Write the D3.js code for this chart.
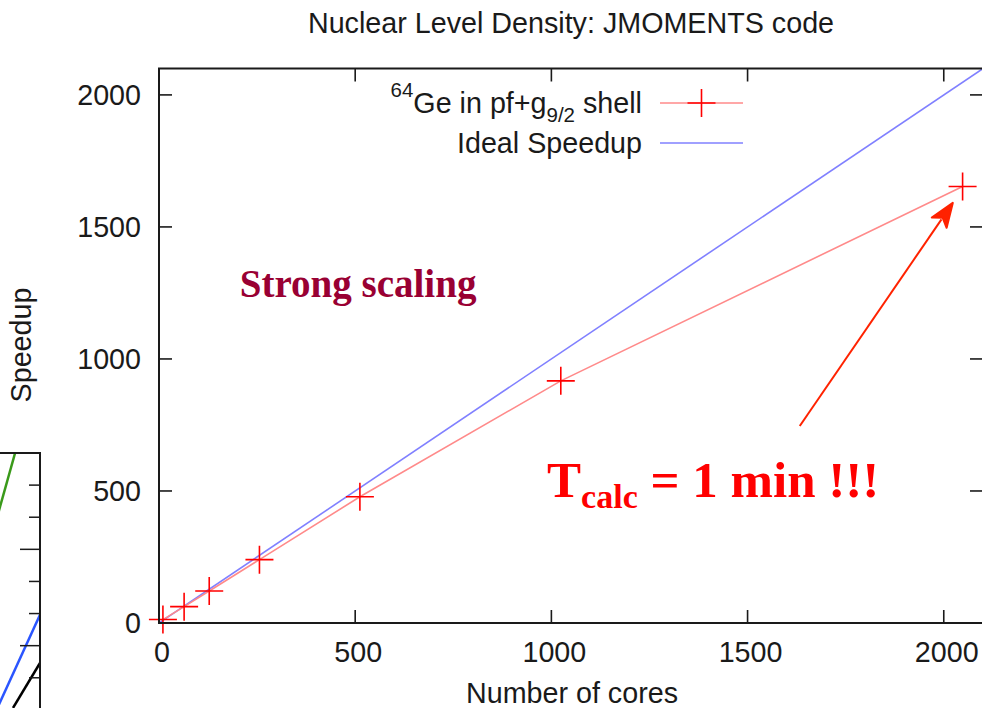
<!DOCTYPE html>
<html>
<head>
<meta charset="utf-8">
<script src="https://cdn.jsdelivr.net/npm/d3@7"></script>
<style>
  body { margin: 0; background: #fff; }
  svg { display: block; }
</style>
</head>
<body>
<div id="chart"></div>
<script>
// data
const cores = [10, 64, 128, 256, 512, 1024, 2048];
const speedup = [13, 62, 121, 240, 478, 917, 1653];
const idealCores = [0, 2100];
const idealSpeedup = [0, 2100];
const xTicks = [0, 500, 1000, 1500, 2000];
const yTicks = [0, 500, 1000, 1500, 2000];

// piece of a neighbouring chart, cut off at the left edge
const leftTicks = [1, 2, 3, 4, 5, 6, 7, 8];
const leftMajor = [3, 6];
const leftGreen = [[8.6, 7.1], [9.17, 9]];
const leftBlue = [[8.6, 1.1], [10, 3.96]];
const leftBlack = [[9.1, 1.06], [10, 2.46]];

const W = 982, H = 708;
const fs = 28.7
const svg = d3.select("#chart").append("svg")
  .attr("width", W).attr("height", H)
  .style("font-family", "'Liberation Sans', Arial, Helvetica, sans-serif")

svg.append("rect").attr("width", W).attr("height", H).attr("fill", "#fff")

var x = d3.scaleLinear().domain([0, 2100]).range([159, 983])
var y = d3.scaleLinear().domain([0, 2100]).range([623, 68.5])
const tickLen = 13
const ink = "#1a1a1a"

// ---- left remnant chart ----
var xl = d3.scaleLinear().domain([0, 10]).range([-260, 40])
var yl = d3.scaleLinear().domain([0, 9]).range([742, 453])
svg.append("clipPath").attr("id", "clipL")
  .append("rect").attr("x", 0).attr("y", yl(9)).attr("width", xl(10)).attr("height", H)
const gl = svg.append("g")
const lineL = d3.line().x(d => xl(d[0])).y(d => yl(d[1]))
;[[leftGreen, "#3a9a1a"], [leftBlue, "#2a55ff"], [leftBlack, "#000"]].forEach(([pts, col]) => {
  gl.append("path").attr("d", lineL(pts)).attr("fill", "none")
    .attr("stroke", col).attr("stroke-width", 2.5).attr("clip-path", "url(#clipL)")
})
gl.selectAll("line.lt").data(leftTicks).enter().append("line")
  .attr("x1", d => xl(10) - (leftMajor.includes(d) ? 20 : 11)).attr("x2", xl(10))
  .attr("y1", d => yl(d)).attr("y2", d => yl(d))
  .attr("stroke", ink).attr("stroke-width", 1.5)
gl.append("path")
  .attr("d", `M0,${yl(9)}H${xl(10)}V${H}`)
  .attr("fill", "none").attr("stroke", ink).attr("stroke-width", 2)

// ---- main plot ----
const line = d3.line().x(d => x(d[0])).y(d => y(d[1]))

svg.append("clipPath").attr("id", "clipM")
  .append("rect").attr("x", x(0)).attr("y", y(2100)).attr("width", x(2100) - x(0)).attr("height", y(0) - y(2100))

// ideal speedup
svg.append("path")
  .attr("d", line(idealCores.map((c, i) => [c, idealSpeedup[i]])))
  .attr("fill", "none").attr("stroke", "#8080ff").attr("stroke-width", 1.6)
  .attr("clip-path", "url(#clipM)")

// measured speedup
const pts = cores.map((c, i) => [c, speedup[i]])
svg.append("path")
  .attr("d", line(pts))
  .attr("fill", "none").attr("stroke", "#ff8a8a").attr("stroke-width", 1.6)

function drawPlus(g, cx, cy) {
  g.append("path")
    .attr("d", `M${cx - 14},${cy}H${cx + 14}M${cx},${cy - 14}V${cy + 14}`)
    .attr("stroke", "#ff0000").attr("stroke-width", 1.6).attr("fill", "none")
}
const gp = svg.append("g")
pts.forEach(d => drawPlus(gp, x(d[0]), y(d[1])))

// border and ticks
svg.append("rect")
  .attr("x", x(0)).attr("y", y(2100))
  .attr("width", x(2100) - x(0)).attr("height", y(0) - y(2100))
  .attr("fill", "none").attr("stroke", ink).attr("stroke-width", 2)

const gt = svg.append("g").attr("stroke", ink).attr("stroke-width", 1.6)
xTicks.forEach(t => {
  gt.append("line").attr("x1", x(t)).attr("x2", x(t)).attr("y1", y(0)).attr("y2", y(0) - tickLen)
  gt.append("line").attr("x1", x(t)).attr("x2", x(t)).attr("y1", y(2100)).attr("y2", y(2100) + tickLen)
})
yTicks.forEach(t => {
  gt.append("line").attr("x1", x(0)).attr("x2", x(0) + tickLen).attr("y1", y(t)).attr("y2", y(t))
  gt.append("line").attr("x1", x(2100)).attr("x2", x(2100) - tickLen).attr("y1", y(t)).attr("y2", y(t))
})

// tick labels
svg.selectAll("text.xt").data(xTicks).enter().append("text")
  .attr("x", d => x(d) + 3).attr("y", y(0) + 39)
  .attr("text-anchor", "middle").attr("font-size", fs).attr("fill", ink)
  .text(d => d)
svg.selectAll("text.yt").data(yTicks).enter().append("text")
  .attr("x", x(0) - 18).attr("y", d => y(d) + 10)
  .attr("text-anchor", "end").attr("font-size", fs).attr("fill", ink)
  .text(d => d)

// titles
svg.append("text").attr("x", 571).attr("y", 33)
  .attr("text-anchor", "middle").attr("font-size", fs).attr("fill", ink)
  .text("Nuclear Level Density: JMOMENTS code")
svg.append("text").attr("x", 572).attr("y", 703)
  .attr("text-anchor", "middle").attr("font-size", fs).attr("fill", ink)
  .text("Number of cores")
svg.append("text").attr("transform", "translate(31,345) rotate(-90)")
  .attr("text-anchor", "middle").attr("font-size", fs).attr("fill", ink)
  .text("Speedup")

// legend
const leg = svg.append("g")
const l1 = leg.append("text").attr("x", 642).attr("y", 113)
  .attr("text-anchor", "end").attr("font-size", fs).attr("fill", ink)
l1.append("tspan").attr("font-size", 20.5).attr("dy", -16).text("64")
l1.append("tspan").attr("dy", 16).text("Ge in pf+g")
l1.append("tspan").attr("font-size", 20.5).attr("dy", 9).text("9/2")
l1.append("tspan").attr("dy", -9).text(" shell")
leg.append("line").attr("x1", 660).attr("x2", 743).attr("y1", 103).attr("y2", 103)
  .attr("stroke", "#ff8a8a").attr("stroke-width", 1.6)
drawPlus(leg, 701.5, 103)
leg.append("text").attr("x", 642).attr("y", 153)
  .attr("text-anchor", "end").attr("font-size", fs).attr("fill", ink)
  .text("Ideal Speedup")
leg.append("line").attr("x1", 660).attr("x2", 743).attr("y1", 143).attr("y2", 143)
  .attr("stroke", "#8080ff").attr("stroke-width", 1.6)

// annotations
svg.append("text").attr("x", x(206)).attr("y", y(1235))
  .attr("font-family", "'Liberation Serif', 'Times New Roman', serif")
  .attr("font-weight", "bold").attr("font-size", 39).attr("fill", "#990033")
  .text("Strong scaling")

const tc = svg.append("text").attr("x", x(989)).attr("y", y(477))
  .attr("font-family", "'Liberation Serif', 'Times New Roman', serif")
  .attr("font-weight", "bold").attr("font-size", 51).attr("fill", "#ff0000")
tc.append("tspan").text("T")
tc.append("tspan").attr("font-size", 34).attr("dy", 11).text("calc")
tc.append("tspan").attr("dy", -11).text(" = 1 min !!!")

// arrow
const a0 = [x(1633), y(746)], a1 = [x(2023), y(1591)]
const ang = Math.atan2(a1[1] - a0[1], a1[0] - a0[0])
const headLen = 24, headW = 9
const bx = a1[0] - headLen * Math.cos(ang), by = a1[1] - headLen * Math.sin(ang)
svg.append("line")
  .attr("x1", a0[0]).attr("y1", a0[1]).attr("x2", bx + 4 * Math.cos(ang)).attr("y2", by + 4 * Math.sin(ang))
  .attr("stroke", "#ff2200").attr("stroke-width", 2)
svg.append("path")
  .attr("d", `M${a1[0]},${a1[1]}`
    + `L${bx - headW * Math.sin(ang)},${by + headW * Math.cos(ang)}`
    + `L${bx + 6 * Math.cos(ang)},${by + 6 * Math.sin(ang)}`
    + `L${bx + headW * Math.sin(ang)},${by - headW * Math.cos(ang)}Z`)
  .attr("fill", "#ff2200").attr("stroke", "#ff2200").attr("stroke-width", 2).attr("stroke-linejoin", "round")
</script>
</body>
</html>
